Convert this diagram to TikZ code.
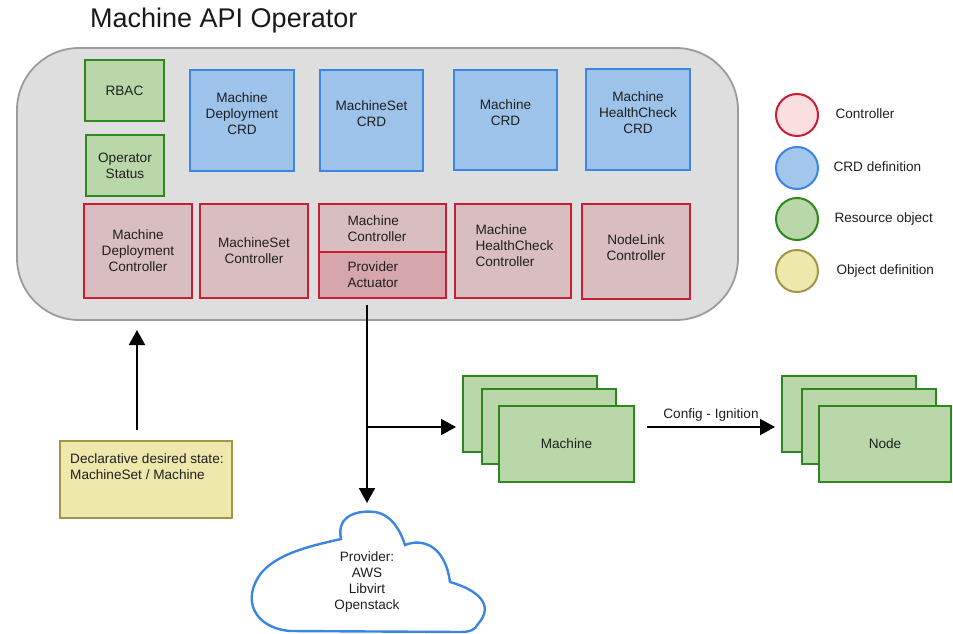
\documentclass[tikz,border=0pt]{standalone}
\usepackage{fontspec}
\setmainfont{Liberation Sans}
\usetikzlibrary{arrows.meta,calc}

\definecolor{opfill}{HTML}{DEDEDE}
\definecolor{opline}{HTML}{9B9B9B}
\definecolor{resfill}{HTML}{B9D7A8}
\definecolor{resline}{HTML}{2D871E}
\definecolor{crdfill}{HTML}{9DC3EB}
\definecolor{crdline}{HTML}{3A86E2}
\definecolor{ctlfill}{HTML}{D8BEC1}
\definecolor{ctlline}{HTML}{C81E32}
\definecolor{actfill}{HTML}{D6A6AC}
\definecolor{objfill}{HTML}{EEE8AC}
\definecolor{objline}{HTML}{A09646}
\definecolor{legctl}{HTML}{FADEE0}

\tikzset{
  txt/.style={font=\fontsize{13.6}{16}\selectfont, text=black!88, align=center},
  boxbase/.style={txt, rectangle, line width=1.8pt, inner sep=0pt},
  resbox/.style={boxbase, draw=resline, fill=resfill},
  crdbox/.style={boxbase, draw=crdline, fill=crdfill},
  ctlbox/.style={boxbase, draw=ctlline, fill=ctlfill},
  actbox/.style={boxbase, draw=ctlline, fill=actfill},
  objbox/.style={boxbase, draw=objline, fill=objfill},
  legdot/.style={circle, line width=2pt, minimum size=42pt, inner sep=0pt},
  legtxt/.style={txt, anchor=west},
  arr/.style={line width=2pt, -{Triangle[width=16pt,length=15pt]}},
  wire/.style={line width=2pt},
}

% box given by corners: \cbox{style}{name}{x1}{y1}{x2}{y2}{text}
\newcommand{\cbox}[7]{%
  \pgfmathsetmacro{\cbw}{#5-#3}%
  \pgfmathsetmacro{\cbh}{#6-#4}%
  \pgfmathsetmacro{\cbx}{(#3+#5)/2}%
  \pgfmathsetmacro{\cby}{(#4+#6)/2}%
  \node[#1, minimum width=\cbw pt, minimum height=\cbh pt]
    (#2) at (\cbx,\cby) {#7};}

\begin{document}
\begin{tikzpicture}[x=1pt,y=-1pt]
\useasboundingbox (0,0) rectangle (953,634);

% title
\node[anchor=base west, font=\fontsize{27}{30}\selectfont, text=black!90, inner sep=0pt]
  (title) at (90,28) {Machine API Operator};

% operator container
\node[draw=opline, fill=opfill, line width=1.8pt, rounded corners=62pt,
  minimum width=721pt, minimum height=272pt, inner sep=0pt] (operator) at (377.5,184) {};

% resource objects
\cbox{resbox}{rbac}{85}{60}{164}{121}{RBAC}
\cbox{resbox}{opstatus}{86}{135}{164}{196}{Operator\\Status}

% CRD definitions
\cbox{crdbox}{mdcrd}{190}{70}{294}{171}{Machine\\Deployment\\CRD\\[-2pt]}
\cbox{crdbox}{mscrd}{320}{70}{423}{171}{MachineSet\\CRD\\[-2pt]}
\cbox{crdbox}{mcrd}{454}{70}{557}{170}{Machine\\CRD\\[-2pt]}
\cbox{crdbox}{mhccrd}{586}{69}{690}{170}{Machine\\HealthCheck\\CRD\\[-2pt]}

% controllers
\cbox{ctlbox}{mdctl}{84}{204}{192}{298}{Machine\\Deployment\\Controller}
\cbox{ctlbox}{msctl}{200}{204}{308}{298}{MachineSet\\Controller}
\cbox{ctlbox}{mctl}{319}{204}{446}{252}{}
\cbox{actbox}{pact}{319}{252}{446}{298}{}
\node[txt, align=left, anchor=west] (mctltxt) at (344,229) {Machine\\Controller};
\node[txt, align=left, anchor=west] (pacttxt) at (344,275) {Provider\\Actuator};
\cbox{ctlbox}{mhcctl}{455}{204}{571}{298}{}
\node[txt, align=left, anchor=west] (mhctxt) at (472,246) {Machine\\HealthCheck\\Controller};
\cbox{ctlbox}{nlctl}{582}{204}{690}{299}{NodeLink\\Controller\\[-8pt]}

% legend
\node[legdot, draw=ctlline, fill=legctl] (lctl) at (797,115) {};
\node[legdot, draw=crdline, fill=crdfill!95!white] (lcrd) at (797,168) {};
\node[legdot, draw=resline, fill=resfill] (lres) at (797,219) {};
\node[legdot, draw=objline, fill=objfill] (lobj) at (797,271) {};
\node[legtxt] (lctltxt) at (832,114) {Controller};
\node[legtxt] (lcrdtxt) at (830,167) {CRD definition};
\node[legtxt] (lrestxt) at (831,219) {Resource object};
\node[legtxt] (lobjtxt) at (833,271) {Object definition};

% declarative desired state
\cbox{objbox}{decl}{60}{441}{232}{518}{}
\node[txt, align=left, anchor=north west, inner sep=0pt] (decltxt) at (70,453)
  {Declarative desired state:\\MachineSet / Machine};
\coordinate (upfrom) at (137,430);
\coordinate (upto) at (137,330);
\draw[arr] (upfrom) -- (upto);

% machine stack
\cbox{resbox}{mach1}{463}{376}{597}{452}{}
\cbox{resbox}{mach2}{482}{389}{616}{464}{}
\cbox{resbox}{mach3}{499}{406}{634}{482}{Machine}

% node stack
\cbox{resbox}{node1}{782}{376}{916}{452}{}
\cbox{resbox}{node2}{802}{389}{936}{464}{}
\cbox{resbox}{node3}{819}{406}{951}{482}{Node}

% cloud of providers
\draw[draw=crdline, fill=white, line width=2.4pt]
  (290,631)
  .. controls (255,628) and (240,600) .. (262,572)
  .. controls (280,552) and (315,545) .. (341,539)
  .. controls (336,515) and (358,510) .. (375,512)
  .. controls (392,515) and (400,530) .. (405,545)
  .. controls (422,538) and (445,545) .. (450,582)
  .. controls (478,590) and (495,605) .. (478,624)
  .. controls (475,630) and (470,632) .. (460,632)
  -- cycle;
\node[txt, text=black!88] (cloud) at (367,582) {Provider:\\AWS\\Libvirt\\Openstack};

% connectors from the provider actuator
\coordinate (pafrom) at (367,305);
\coordinate (branch) at (367,427);
\coordinate (cloudin) at (367,503);
\coordinate (machin) at (456,427);
\draw[wire] (pafrom) -- (branch);
\draw[arr] (branch) -- (cloudin);
\draw[arr] (branch) -- (machin);

% machine to node
\coordinate (cfgfrom) at (647,427);
\coordinate (cfgto) at (775,427);
\draw[arr] (cfgfrom) -- (cfgto) node[midway, above=5pt, txt, inner sep=0pt] (cfglbl) {Config - Ignition};

\end{tikzpicture}
\end{document}
